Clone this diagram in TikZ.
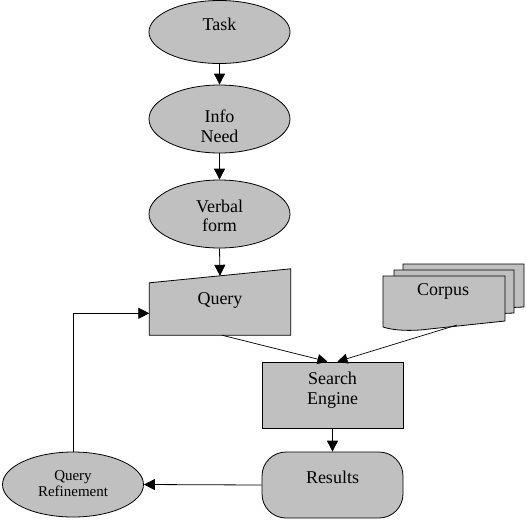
\documentclass[tikz,border=0pt]{standalone}
\usepackage{fontspec}
\setmainfont{Liberation Serif}
\usetikzlibrary{shapes.geometric,arrows.meta,calc}
\definecolor{boxgray}{HTML}{C0C0C0}
\tikzset{
  shp/.style={draw=black, fill=boxgray, line width=0.8pt},
  ell/.style={shp, ellipse, inner sep=0pt, minimum width=141pt, minimum height=#1},
  ell/.default=66pt,
  rbox/.style={inner sep=0pt, minimum width=141pt, minimum height=66pt},
  lbl/.style={font=\fontsize{18}{19.5}\selectfont, align=center, inner sep=0pt},
  slbl/.style={font=\fontsize{15}{15.5}\selectfont, align=center, inner sep=0pt},
  arr/.style={line width=0.8pt, -{Triangle[length=11pt,width=11pt]}},
  thinarr/.style={line width=0.7pt, -{Triangle[length=10pt,width=10pt]}}
}
\begin{document}
\begin{tikzpicture}[x=1pt,y=-1pt]
\useasboundingbox (0,0) rectangle (527,520);
% ellipses
\node[ell=63pt] (task) at (219.5,32) {};
\node[ell=68pt] (info) at (219.5,119) {};
\node[ell=68pt] (verbal) at (219.5,214) {};
\node[ell=65pt] (qref) at (73,484.5) {};
% query (manual input)
\node[rbox] (query) at (220,302) {};
\draw[shp] (query.south west) -- (query.south east) -- (query.north east) -- ($(query.north west)+(0,14)$) -- cycle;
% corpus (multi document)
\draw[shp] (403,264) -- (524,264) -- (524,307) -- (403,312) -- cycle;
\draw[shp] (394,270) -- (514,270) -- (514,313) -- (394,318) -- cycle;
\node[inner sep=0pt, minimum width=122pt, minimum height=54pt] (corpus) at (444,303) {};
\draw[shp] (383,276) -- (505,276) -- (505,321) -- (420,330) .. controls (405,331) and (392,330) .. (383,327) -- cycle;
\coordinate (corpusout) at (457,325);
% search engine
\node[rbox, shp] (se) at (332.5,395) {};
% results
\node[rbox, shp, rounded corners=24pt] (results) at (332.5,485) {};
% labels
\node[lbl] (tasktxt) at (219.5,24) {Task};
\node[lbl] (infotxt) at (219.5,126) {Info\\Need};
\node[lbl] (verbaltxt) at (219.5,216) {Verbal\\form};
\node[lbl] (querytxt) at (220,300) {Query};
\node[lbl] (corpustxt) at (443,291) {Corpus};
\node[lbl] (setxt) at (332.5,390) {Search\\Engine};
\node[lbl] (restxt) at (332.5,477.5) {Results};
\node[slbl] (qreftxt) at (73,483.5) {Query\\Refinement};
% connectors
\draw[arr] (task.south) -- (info.north);
\draw[arr] (info.south) -- (verbal.north);
\draw[arr] (verbal.south) -- ($(query.north)+(0,7)$);
\draw[thinarr] ($(query.south)+(2,0)$) -- ($(se.north)+(-5,0)$);
\draw[thinarr] (corpusout) -- ($(se.north)+(5,0)$);
\draw[arr] (se.south) -- (results.north);
\draw[arr] (results.west) -- (qref.east);
\draw[arr] (qref.north) |- ($(query.south west)!0.33!(query.north west)$);
\end{tikzpicture}
\end{document}
